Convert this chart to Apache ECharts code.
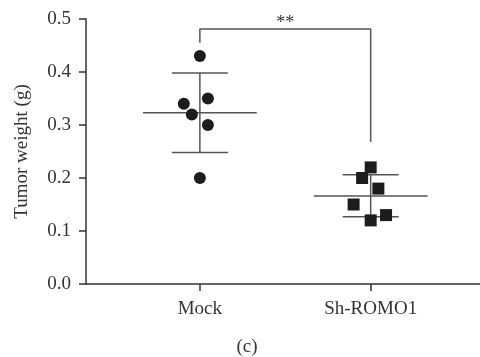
<!DOCTYPE html>
<html><head><meta charset="utf-8">
<script src="https://cdn.jsdelivr.net/npm/echarts@6/dist/echarts.min.js"></script>
<style>html,body{margin:0;padding:0;background:#fff}#c{width:480px;height:357px}</style>
</head><body><div id="c"></div>
<script>
const categories = ["Mock", "Sh-ROMO1"];
const yTicks = [0.0, 0.1, 0.2, 0.3, 0.4, 0.5];
// [x position (with jitter), value]
const mockPoints = [[1.0, 0.43], [0.906, 0.34], [1.047, 0.35], [0.953, 0.32], [1.047, 0.30], [1.0, 0.20]];
const shPoints = [[2.0, 0.22], [1.95, 0.20], [2.045, 0.18], [1.9, 0.15], [2.09, 0.13], [2.0, 0.12]];
// [x, mean, lower (mean-SD), upper (mean+SD)]
const summary = [[1, 0.323, 0.248, 0.398], [2, 0.166, 0.127, 0.206]];
const bracket = [[1, 0.455], [1, 0.481], [2, 0.481], [2, 0.268]];
const sigLabel = "**";

const font = '"Liberation Serif", "DejaVu Serif", serif';
const chart = echarts.init(document.getElementById('c'));
chart.setOption({
  animation: false,
  grid: {left: 86, right: 0, top: 19, bottom: 73},
  xAxis: {
    type: 'value', min: 1/3, max: 2.64,
    axisLine: {show: true, lineStyle: {color: '#333', width: 1.5}},
    axisTick: {show: true, length: 7, customValues: [1, 2], lineStyle: {color: '#333', width: 1.5}},
    axisLabel: {customValues: [1, 2], formatter: v => categories[Math.round(v) - 1], color: '#333',
      fontFamily: font, fontSize: 19, margin: 16},
    splitLine: {show: false}
  },
  yAxis: {
    type: 'value', min: 0, max: 0.5, interval: 0.1,
    name: 'Tumor weight (g)', nameLocation: 'middle', nameGap: 54,
    nameTextStyle: {color: '#333', fontFamily: font, fontSize: 19},
    axisLine: {show: true, lineStyle: {color: '#333', width: 1.5}},
    axisTick: {show: true, length: 7, lineStyle: {color: '#333', width: 1.5}},
    axisLabel: {formatter: v => v.toFixed(1), color: '#333', fontFamily: font, fontSize: 19, margin: 15},
    splitLine: {show: false}
  },
  graphic: [{type: 'text', x: 247, y: 347, style: {text: '(c)', fill: '#333', font: '19px ' + font,
    textAlign: 'center', textVerticalAlign: 'middle'}}],
  series: [
    {
      type: 'custom', z: 1,
      renderItem: function (params, api) {
        const x = api.value(0), m = api.value(1), lo = api.value(2), hi = api.value(3);
        const st = {stroke: '#555', lineWidth: 1.5};
        const p = (a, b) => api.coord([a, b]);
        const seg = (a, b) => ({type: 'line', shape: {x1: a[0], y1: a[1], x2: b[0], y2: b[1]}, style: st});
        return {type: 'group', children: [
          seg(p(x - 0.333, m), p(x + 0.333, m)),
          seg(p(x, lo), p(x, hi)),
          seg(p(x - 0.164, lo), p(x + 0.164, lo)),
          seg(p(x - 0.164, hi), p(x + 0.164, hi))
        ]};
      },
      data: summary
    },
    {type: 'scatter', z: 3, symbol: 'circle', symbolSize: 12, itemStyle: {color: '#1c1c1c', opacity: 1}, data: mockPoints},
    {type: 'scatter', z: 3, symbol: 'rect', symbolSize: 12, itemStyle: {color: '#1c1c1c', opacity: 1}, data: shPoints},
    {type: 'line', z: 2, symbol: 'none', lineStyle: {color: '#555', width: 1.5}, data: bracket,
      markPoint: {symbol: 'circle', symbolSize: 0, label: {show: true, formatter: sigLabel, color: '#333',
        fontFamily: font, fontSize: 18, offset: [0, 0]}, data: [{coord: [1.5, 0.492]}]}}
  ]
});
</script></body></html>
